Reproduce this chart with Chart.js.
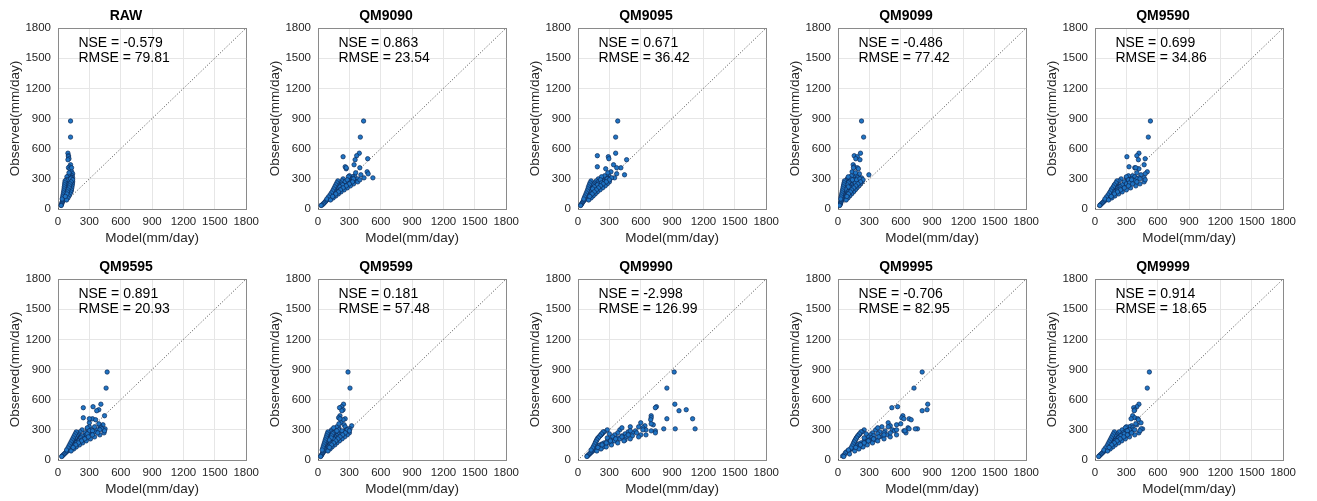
<!DOCTYPE html>
<html>
<head>
<meta charset="utf-8">
<script src="https://cdn.jsdelivr.net/npm/chart.js"></script>
<style>
body { margin: 0; background: #fff; }
#wrap { position: relative; width: 1317px; height: 501px; }
.panel { position: absolute; }
</style>
</head>
<body>
<div id="wrap"></div>
<script>
const panelTitles = ['RAW', 'QM9090', 'QM9095', 'QM9099', 'QM9590', 'QM9595', 'QM9599', 'QM9990', 'QM9995', 'QM9999'];
const nseValues = ['-0.579', '0.863', '0.671', '-0.486', '0.699', '0.891', '0.181', '-2.998', '-0.706', '0.914'];
const rmseValues = ['79.81', '23.54', '36.42', '77.42', '34.86', '20.93', '57.48', '126.99', '82.95', '18.65'];
const axisTicks = [0, 300, 600, 900, 1200, 1500, 1800];

// observed daily maxima (same for every panel), mm/day
const observed = [
  875, 715, 555, 530, 520, 500, 490, 440, 420, 410,
  400, 370, 350, 340, 330, 320, 310, 310, 300, 300,
  290, 280, 280, 270, 260, 260, 250, 250, 240, 240,
  230, 220, 220, 210, 200, 200, 190, 180, 180, 170,
  160, 150, 140, 130, 120, 110, 100, 90, 80, 70,
  60, 50, 40, 35, 330, 300, 270, 250, 230, 210,
  190, 170, 150, 130, 320, 290, 260, 240, 220, 200,
  410, 310, 360, 290,
  280, 260, 240, 220, 200, 180, 160, 140, 120, 100,
  270, 250, 230, 210, 190, 170, 150, 130, 110, 90,
  300, 290, 270, 250, 230, 210, 190, 170, 150, 125
];

// model values per panel, same order as observed
const modelRaw = [
  120, 120, 95, 100, 100, 105, 95, 120, 110, 100,
  115, 130, 140, 120, 135, 125, 140, 110, 130, 95,
  120, 130, 90, 110, 125, 85, 120, 80, 110, 78,
  100, 115, 75, 95, 120, 70, 90, 125, 68, 85,
  80, 75, 70, 65, 60, 55, 52, 48, 45, 40,
  38, 35, 32, 30, 100, 110, 100, 100, 90, 85,
  80, 100, 90, 80, 85, 80, 95, 90, 85, 105,
  130, 125, 105, 100,
  68, 65, 63, 60, 58, 55, 52, 48, 45, 40,
  140, 138, 135, 132, 128, 122, 115, 105, 95, 82,
  120, 140, 125, 115, 110, 105, 95, 90, 85, 70
];
const modelQM9090 = [
  436, 405, 395, 370, 240, 475, 355, 345, 260, 400,
  270, 470, 480, 410, 350, 330, 525, 300, 380, 240,
  320, 350, 230, 300, 280, 215, 260, 200, 250, 190,
  240, 230, 175, 220, 210, 160, 190, 185, 150, 170,
  155, 145, 135, 125, 115, 105, 95, 85, 75, 68,
  58, 50, 38, 30, 300, 330, 260, 290, 250, 200,
  220, 160, 165, 140, 290, 280, 310, 235, 210, 225,
  270, 440, 360, 340,
  190, 180, 170, 160, 150, 140, 128, 115, 100, 85,
  380, 340, 310, 280, 250, 220, 195, 170, 145, 120,
  340, 400, 330, 300, 270, 240, 215, 195, 170, 140
];
const modelQM9095 = [
  380, 360, 360, 185, 290, 295, 465, 340, 185, 410,
  265, 315, 370, 445, 295, 275, 350, 235, 300, 195,
  255, 295, 175, 245, 265, 155, 225, 145, 215, 135,
  195, 185, 125, 175, 170, 115, 155, 155, 105, 135,
  125, 115, 105, 95, 85, 78, 70, 62, 53, 46,
  40, 34, 28, 25, 255, 275, 195, 195, 175, 145,
  165, 118, 125, 100, 225, 215, 225, 185, 155, 140,
  370, 320, 285, 285,
  125, 115, 108, 100, 95, 88, 80, 72, 63, 55,
  300, 280, 260, 235, 210, 185, 165, 145, 125, 102,
  280, 300, 270, 240, 215, 195, 175, 155, 135, 112
];
const modelQM9099 = [
  225, 245, 215, 155, 185, 170, 210, 145, 155, 185,
  195, 135, 205, 295, 175, 145, 225, 108, 195, 88,
  155, 185, 78, 135, 165, 73, 118, 64, 128, 58,
  108, 145, 56, 98, 135, 54, 88, 128, 50, 78,
  73, 68, 60, 55, 50, 45, 40, 35, 32, 28,
  25, 22, 18, 15, 128, 118, 108, 88, 78, 118,
  70, 98, 93, 83, 98, 138, 98, 88, 98, 68,
  148, 188, 168, 178,
  62, 58, 55, 50, 46, 42, 38, 34, 30, 26,
  230, 215, 200, 180, 165, 148, 130, 112, 95, 78,
  210, 240, 215, 190, 170, 150, 130, 118, 100, 85
];
const modelQM9590 = [
  530, 510, 420, 400, 305, 480, 415, 470, 325, 380,
  420, 500, 480, 440, 360, 380, 420, 300, 400, 250,
  340, 380, 230, 320, 300, 210, 280, 200, 270, 190,
  260, 250, 180, 230, 230, 165, 210, 200, 155, 185,
  170, 160, 150, 140, 130, 120, 110, 100, 90, 80,
  70, 60, 50, 45, 320, 350, 280, 300, 240, 220,
  220, 180, 165, 150, 300, 320, 330, 260, 240, 240,
  390, 470, 400, 350,
  210, 200, 185, 175, 160, 150, 138, 125, 110, 95,
  470, 430, 390, 340, 300, 260, 225, 190, 160, 130,
  430, 480, 400, 360, 320, 280, 245, 215, 185, 155
];
const modelQM9595 = [
  470, 460, 410, 335, 242, 390, 370, 445, 242, 330,
  360, 300, 430, 400, 350, 410, 450, 280, 380, 230,
  330, 350, 210, 300, 290, 195, 270, 185, 250, 175,
  240, 230, 165, 210, 210, 150, 190, 185, 140, 170,
  160, 150, 140, 130, 120, 110, 100, 90, 80, 70,
  60, 50, 40, 35, 300, 320, 260, 270, 230, 210,
  200, 175, 160, 140, 280, 300, 280, 230, 220, 230,
  300, 420, 390, 330,
  175, 165, 155, 145, 135, 125, 115, 105, 95, 82,
  440, 400, 350, 310, 270, 235, 205, 175, 150, 125,
  400, 445, 380, 330, 290, 255, 225, 195, 170, 145
];
const modelQM9599 = [
  287, 306, 244, 225, 206, 240, 228, 210, 197, 260,
  240, 220, 250, 322, 260, 200, 306, 160, 270, 130,
  210, 250, 120, 190, 230, 110, 170, 100, 180, 95,
  160, 190, 90, 150, 175, 85, 140, 165, 80, 130,
  120, 110, 100, 90, 82, 75, 68, 60, 52, 45,
  40, 34, 28, 25, 180, 200, 150, 140, 130, 150,
  110, 120, 115, 100, 150, 180, 140, 130, 125, 105,
  210, 290, 200, 230,
  95, 88, 82, 76, 70, 64, 58, 52, 46, 40,
  300, 280, 255, 230, 205, 180, 160, 135, 115, 95,
  280, 300, 260, 235, 210, 190, 170, 150, 130, 110
];
const modelQM9990 = [
  920, 850, 926, 750, 740, 1035, 966, 700, 700, 850,
  695, 600, 720, 640, 500, 620, 1120, 930, 400, 280,
  550, 480, 250, 380, 450, 230, 350, 220, 420, 210,
  330, 380, 190, 300, 350, 180, 280, 320, 170, 250,
  230, 210, 200, 180, 170, 160, 150, 140, 130, 120,
  110, 100, 90, 85, 580, 650, 520, 600, 460, 400,
  350, 290, 260, 240, 420, 740, 300, 520, 280, 450,
  1096, 820, 700, 500,
  240, 225, 210, 195, 180, 170, 160, 150, 140, 125,
  740, 650, 580, 500, 440, 380, 320, 270, 220, 180,
  620, 700, 560, 480, 420, 360, 310, 270, 230, 190
];
const modelQM9995 = [
  805, 727, 858, 570, 515, 852, 805, 620, 610, 680,
  700, 480, 560, 500, 420, 670, 760, 740, 360, 250,
  450, 400, 230, 330, 380, 210, 310, 200, 340, 190,
  290, 320, 175, 260, 300, 165, 250, 280, 155, 220,
  200, 185, 170, 155, 140, 125, 110, 95, 80, 70,
  110, 60, 45, 55, 480, 520, 440, 470, 400, 340,
  300, 250, 230, 210, 380, 630, 270, 430, 250, 360,
  630, 680, 600, 540,
  220, 205, 190, 178, 165, 155, 145, 135, 125, 100,
  650, 560, 500, 440, 380, 330, 280, 240, 200, 160,
  560, 640, 500, 440, 390, 340, 290, 250, 215, 170
];
const modelQM9999 = [
  520, 500, 420, 400, 370, 380, 375, 360, 380, 410,
  415, 440, 400, 350, 330, 360, 455, 300, 360, 260,
  320, 330, 230, 300, 290, 210, 270, 200, 260, 190,
  240, 230, 175, 215, 210, 160, 190, 185, 150, 170,
  160, 150, 140, 130, 120, 110, 100, 90, 80, 70,
  60, 50, 40, 35, 300, 330, 270, 260, 230, 210,
  195, 175, 160, 140, 290, 300, 280, 245, 225, 230,
  345, 440, 390, 310,
  185, 175, 165, 155, 145, 135, 125, 115, 100, 85,
  420, 380, 330, 290, 255, 225, 195, 170, 145, 120,
  380, 430, 350, 310, 275, 240, 210, 185, 160, 135
];

const modelSeries = [modelRaw, modelQM9090, modelQM9095, modelQM9099, modelQM9590,
  modelQM9595, modelQM9599, modelQM9990, modelQM9995, modelQM9999];

const wrap = document.getElementById('wrap');
const panelLeft = [0, 260, 520, 780, 1037];
const panelTop = [0, 251];
const fontFamily = "'Liberation Sans', Arial, sans-serif";

// NSE / RMSE labels in the upper left of each axes
const statsText = {
  id: 'statsText',
  afterDatasetsDraw(chart, args, opts) {
    const {ctx, scales: {x, y}} = chart;
    ctx.save();
    ctx.font = '14px ' + fontFamily;
    ctx.fillStyle = '#000';
    ctx.textBaseline = 'middle';
    ctx.textAlign = 'left';
    ctx.fillText('NSE = ' + opts.nse, x.getPixelForValue(195), y.getPixelForValue(1654));
    ctx.fillText('RMSE = ' + opts.rmse, x.getPixelForValue(195), y.getPixelForValue(1499));
    ctx.restore();
  }
};

function makeAxis(label, isX) {
  return {
    type: 'linear',
    min: axisTicks[0],
    max: axisTicks[axisTicks.length - 1],
    afterBuildTicks: s => { s.ticks = axisTicks.map(v => ({value: v})); },
    ticks: {
      autoSkip: false,
      maxRotation: 0,
      padding: isX ? 6 : 7,
      color: '#262626',
      font: {family: fontFamily, size: 11.5},
      callback: v => String(v)
    },
    grid: {
      drawTicks: false,
      color: c => c.tick && c.tick.value === 1800 ? '#8a8a8a' : '#e6e6e6'
    },
    border: {color: '#8a8a8a'},
    title: {
      display: true,
      text: label,
      color: '#262626',
      font: {family: fontFamily, size: 13.5},
      padding: isX ? {top: 0, bottom: 4} : {top: 7.6, bottom: 0}
    },
    afterFit: s => { if (isX) s.height = 41; else s.width = 58; }
  };
}

panelTitles.forEach((title, i) => {
  const canvas = document.createElement('canvas');
  canvas.className = 'panel';
  canvas.width = 265;
  canvas.height = 250;
  canvas.style.left = panelLeft[i % 5] + 'px';
  canvas.style.top = panelTop[Math.floor(i / 5)] + 'px';
  wrap.appendChild(canvas);

  const points = observed.map((o, k) => ({x: modelSeries[i][k], y: o}));

  new Chart(canvas, {
    type: 'scatter',
    data: {
      datasets: [{
        data: points,
        pointRadius: 2.2,
        backgroundColor: '#1f74c4',
        borderColor: '#0d2a57',
        borderWidth: 0.7
      }, {
        type: 'line',
        data: [{x: 0, y: 0}, {x: 1800, y: 1800}],
        borderColor: '#333',
        borderWidth: 0.9,
        borderDash: [1, 2],
        pointRadius: 0,
        fill: false
      }]
    },
    options: {
      responsive: false,
      animation: false,
      layout: {padding: {left: 0, right: 13, top: 0, bottom: 0}},
      plugins: {
        legend: {display: false},
        tooltip: {enabled: false},
        title: {
          display: true,
          text: title,
          color: '#000',
          font: {family: fontFamily, size: 14, weight: 'bold'},
          padding: {top: 7.6, bottom: 3.6}
        },
        statsText: {nse: nseValues[i], rmse: rmseValues[i]}
      },
      scales: {
        x: makeAxis('Model(mm/day)', true),
        y: makeAxis('Observed(mm/day)', false)
      }
    },
    plugins: [statsText]
  });
});
</script>
</body>
</html>
